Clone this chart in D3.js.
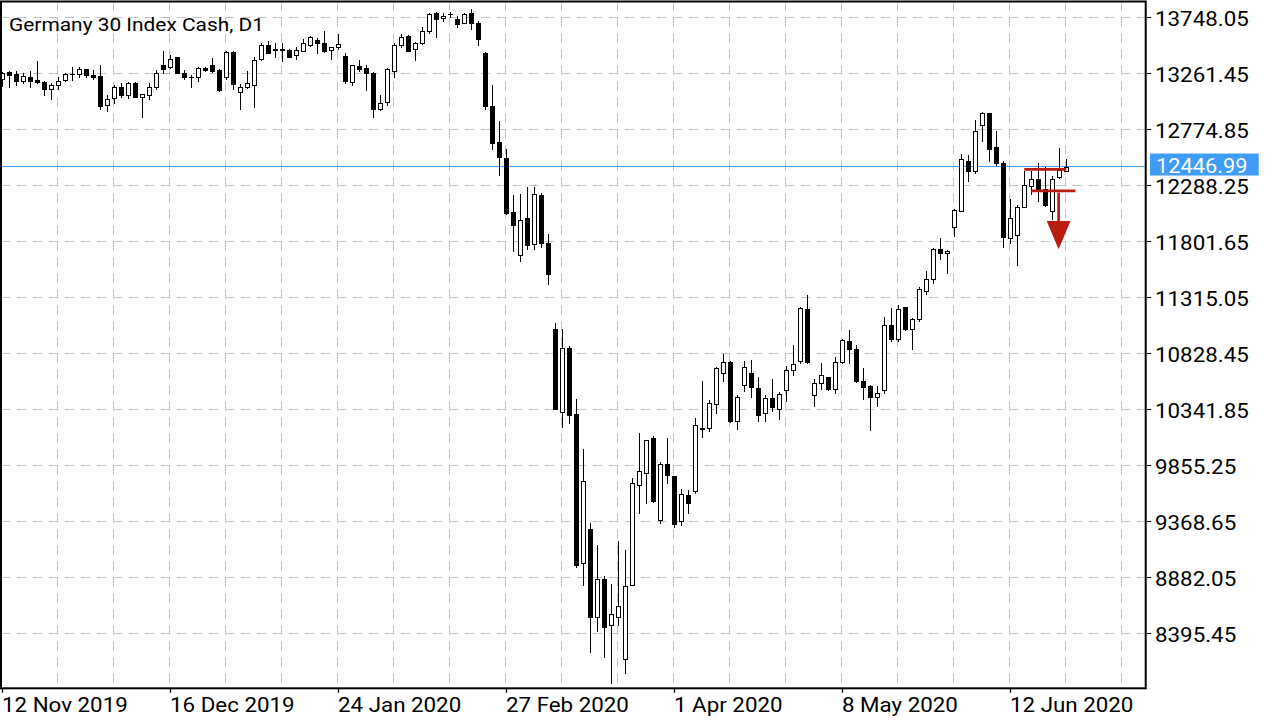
<!DOCTYPE html>
<html><head><meta charset="utf-8">
<script src="https://cdn.jsdelivr.net/npm/d3@7"></script>
<style>html,body{margin:0;padding:0;background:#fff;} svg{display:block;font-family:Roboto, sans-serif;}</style>
</head><body><svg id="c" width="1280" height="720"></svg>
<script>
const chartTitle = "Germany 30 Index Cash, D1";
const opens = [13209,13273,13255,13197,13227,13203,13186,13122,13162,13203,13255,13255,13296,13249,13238,12983,13047,13140,13070,13180,13058,13070,13140,13331,13314,13400,13267,13229,13227,13308,13331,13290,13227,13447,13099,13140,13162,13383,13510,13470,13468,13464,13418,13458,13510,13551,13527,13464,13493,13412,13186,13325,13308,13267,12954,13012,13284,13505,13586,13470,13522,13632,13783,13742,13775,13731,13701,13783,13696,13441,12977,12665,12526,12056,11680,12004,11778,12207,11784,11037,10321,10872,10301,9004,9299,8535,8865,8465,8535,8170,8813,9687,9791,10093,9380,9867,9762,9369,9595,9635,10179,10179,10388,10655,10753,10238,10551,10655,10527,10307,10440,10342,10510,10683,10764,11211,10469,10568,10620,10521,10753,10933,10863,10585,10544,10446,10510,11072,10950,11228,11042,11129,11367,11472,11732,11697,11923,12068,12502,12415,12810,12914,12618,12485,11830,11859,12102,12282,12341,12253,12062,12358,12415];
const highs = [13273,13284,13279,13267,13279,13366,13197,13175,13232,13262,13314,13319,13301,13290,13336,13076,13162,13180,13186,13186,13082,13175,13290,13453,13418,13406,13290,13249,13319,13319,13394,13301,13453,13453,13169,13284,13400,13527,13540,13527,13522,13470,13493,13557,13586,13568,13632,13493,13603,13435,13336,13377,13331,13273,13070,13308,13522,13603,13590,13533,13661,13783,13794,13783,13794,13759,13783,13817,13719,13447,13157,12844,12601,12201,12213,12276,12271,12224,11865,11089,11037,10892,10429,9994,9351,9160,8894,8824,9195,9119,9745,10133,10075,10110,9884,10093,9765,9647,9641,10266,10590,10423,10707,10822,10760,10464,10764,10770,10620,10464,10608,10492,10718,10903,11233,11338,10608,10742,10625,10799,10950,11031,10898,10701,10550,10544,11147,11222,11246,11232,11133,11407,11541,11744,11830,11722,12085,12560,12554,12856,12925,12920,12763,12497,12172,12114,12410,12415,12479,12450,12369,12612,12514];
const lows = [13151,13140,13157,13175,13140,13180,13070,13041,13122,13197,13203,13227,13227,13209,12954,12931,13006,13053,13047,13058,12884,13041,13122,13262,13308,13262,13209,13140,13192,13284,13273,13110,13209,13122,12949,13134,12971,13377,13435,13406,13366,13400,13383,13453,13499,13441,13447,13383,13475,13180,13162,13284,13116,12884,12943,12983,13227,13487,13455,13377,13516,13614,13580,13713,13753,13661,13696,13649,13505,12954,12606,12375,12039,11720,11628,11737,11732,11755,11431,10347,10186,10220,8974,8818,8236,8418,8187,7966,8465,8048,8813,9438,9525,9536,9357,9704,9322,9334,9444,9617,10104,10151,10312,10585,10232,10173,10504,10446,10238,10238,10325,10260,10411,10637,10742,10747,10371,10516,10512,10486,10748,10742,10580,10434,10162,10371,10481,10933,10938,11031,10868,11112,11344,11437,11651,11524,11848,12065,12328,12398,12676,12502,12462,11755,11784,11593,12097,12213,12155,12108,11993,12355,12410];
const closes = [13262,13244,13197,13238,13197,13186,13122,13157,13197,13255,13257,13296,13244,13227,12977,13041,13140,13070,13175,13058,13082,13140,13262,13301,13388,13267,13232,13227,13308,13290,13279,13116,13447,13169,13140,13175,13377,13510,13441,13468,13472,13406,13464,13527,13574,13522,13458,13487,13516,13192,13331,13301,13267,12949,13006,13296,13510,13580,13458,13527,13626,13777,13736,13759,13777,13690,13777,13701,13562,12977,12658,12532,12045,11946,11987,11772,12213,11784,11518,10347,10872,10295,8989,9716,8540,8865,8453,8563,8633,8807,9699,9803,10075,9548,9867,9774,9345,9606,9525,10203,10168,10394,10701,10753,10238,10446,10707,10533,10290,10440,10365,10475,10683,10736,11222,10753,10568,10637,10516,10753,10944,10863,10585,10533,10451,10481,11072,10955,11216,11042,11129,11390,11472,11732,11703,11720,12074,12514,12415,12757,12914,12606,12479,11836,12004,12102,12293,12346,12248,12114,12346,12421,12446.99];
const dateLabels = ["12 Nov 2019","16 Dec 2019","24 Jan 2020","27 Feb 2020","1 Apr 2020","8 May 2020","12 Jun 2020"];
const dateLabelBars = [0,24,48,72,96,120,144];
const priceTicks = [13748.05,13261.45,12774.85,12288.25,11801.65,11315.05,10828.45,10341.85,9855.25,9368.65,8882.05,8395.45];
const lastPrice = 12446.99;
// hand-drawn annotations (price levels / bar positions)
const annoLevels = [ {price:12427, from:146, to:152}, {price:12239, from:147, to:153.3} ];
const annoArrow = {bar:150.9, fromPrice:12225, baseHalf:1.7, basePrice:11978, tipPrice:11732};

const svg = d3.select("#c");
const W = 1280, H = 720;
const plot = {left:1, top:1.5, right:1145.7, bottom:688.3};

const x = d3.scaleLinear().domain([0, 152]).range([2.3, 2.3 + 7*152]);
const y = d3.scaleLinear().domain([8395.45, 13748.05]).range([633.3, 17.3]);

svg.append("rect").attr("width",W).attr("height",H).attr("fill","#fff");

svg.append("defs").append("clipPath").attr("id","pc").append("rect")
  .attr("x",plot.left+1).attr("y",plot.top+1).attr("width",plot.right-plot.left-2).attr("height",plot.bottom-plot.top-2);

const g = svg.append("g").attr("clip-path","url(#pc)");

// grid
const vgrid = d3.range(8, 153 + 8, 8).map(i => x(i) - 1).filter(v => v < plot.right - 5);
g.selectAll(".vg").data(vgrid).enter().append("line")
  .attr("x1", d => Math.floor(d)+0.5).attr("x2", d => Math.floor(d)+0.5)
  .attr("y1", plot.top).attr("y2", plot.bottom)
  .attr("stroke","#c3c3c3").attr("stroke-width",1).attr("stroke-dasharray","9,7");
g.selectAll(".hg").data(priceTicks).enter().append("line")
  .attr("y1", d => Math.round(y(d))+0.5).attr("y2", d => Math.round(y(d))+0.5)
  .attr("x1", plot.left).attr("x2", plot.right)
  .attr("stroke","#c3c3c3").attr("stroke-width",1).attr("stroke-dasharray","9,7");

// last price line
g.append("line").attr("x1",plot.left).attr("x2",plot.right)
  .attr("y1", Math.round(y(lastPrice))-0.5).attr("y2", Math.round(y(lastPrice))-0.5)
  .attr("stroke","#3f9cf7").attr("stroke-width",1);

// candles
const bars = opens.map((o,i)=>({i, o, h:highs[i], l:lows[i], c:closes[i]}));
const cg = g.append("g");
bars.forEach(b => {
  const c = Math.floor(x(b.i));
  const cx = c + 0.5;
  cg.append("line").attr("x1",cx).attr("x2",cx)
    .attr("y1", Math.round(y(b.h))).attr("y2", Math.round(y(b.l))+1)
    .attr("stroke","#000").attr("stroke-width",1);
  const top = Math.round(y(Math.max(b.o,b.c)))+0.5;
  const bot = Math.round(y(Math.min(b.o,b.c)))+0.5;
  if (bot - top < 1) {
    cg.append("line").attr("x1", c-2).attr("x2", c+3).attr("y1", top).attr("y2", top)
      .attr("stroke","#000").attr("stroke-width",1);
  } else {
    cg.append("rect").attr("x", c-1.5).attr("width",4).attr("y",top).attr("height",bot-top)
      .attr("fill", b.c >= b.o ? "#fff" : "#000").attr("stroke","#000").attr("stroke-width",1);
  }
});

// annotations
const red = "#b81b10";
annoLevels.forEach(a => {
  g.append("line").attr("x1", x(a.from)).attr("x2", x(a.to))
    .attr("y1", y(a.price)).attr("y2", y(a.price))
    .attr("stroke", red).attr("stroke-width", 2.7);
});
g.append("line").attr("x1", x(annoArrow.bar)).attr("x2", x(annoArrow.bar))
  .attr("y1", y(annoArrow.fromPrice)).attr("y2", y(annoArrow.basePrice))
  .attr("stroke", red).attr("stroke-width", 2.7);
g.append("path").attr("d", d3.line()([
  [x(annoArrow.bar - annoArrow.baseHalf), y(annoArrow.basePrice)],
  [x(annoArrow.bar + annoArrow.baseHalf), y(annoArrow.basePrice)],
  [x(annoArrow.bar), y(annoArrow.tipPrice)]
]) + "Z").attr("fill", red);

// frame
svg.append("rect").attr("x",plot.left).attr("y",plot.top)
  .attr("width",plot.right-plot.left).attr("height",plot.bottom-plot.top)
  .attr("fill","none").attr("stroke","#000").attr("stroke-width",2);

// y axis ticks & labels
const sx = 1.09;
svg.selectAll(".yt").data(priceTicks).enter().append("line")
  .attr("x1", plot.right+1).attr("x2", plot.right+5.5)
  .attr("y1", d => Math.round(y(d))+0.5).attr("y2", d => Math.round(y(d))+0.5)
  .attr("stroke","#000").attr("stroke-width",1);
svg.selectAll(".yl").data(priceTicks).enter().append("text")
  .attr("transform", d => `translate(1155,${y(d)+8.3}) scale(${sx},1)`)
  .attr("font-size", 20.5).attr("fill","#000")
  .text(d => d.toFixed(2));

// last price label
const ly = y(lastPrice);
svg.append("rect").attr("x",1150).attr("y", ly-13.5).attr("width",108.7).attr("height",22).attr("fill","#3f9cf7");
svg.append("text").attr("transform", `translate(1156,${ly+5.8}) scale(${sx},1)`)
  .attr("font-size",20).attr("fill","#fff").text(lastPrice.toFixed(2));

// x axis ticks & labels
svg.selectAll(".xt").data(dateLabelBars).enter().append("line")
  .attr("x1", d => Math.floor(x(d))+0.5).attr("x2", d => Math.floor(x(d))+0.5)
  .attr("y1", plot.bottom).attr("y2", plot.bottom+4.5)
  .attr("stroke","#000").attr("stroke-width",1.3);
svg.selectAll(".xl").data(dateLabelBars).enter().append("text")
  .attr("transform", (d) => `translate(${Math.floor(x(d))},711.5) scale(${sx},1)`)
  .attr("font-size",20.5).attr("fill","#000")
  .text((d,k) => dateLabels[k]);

// title
svg.append("text").attr("transform", `translate(9,30.5) scale(1.1,1)`)
  .attr("font-size",19).attr("fill","#000").text(chartTitle);
</script></body></html>
